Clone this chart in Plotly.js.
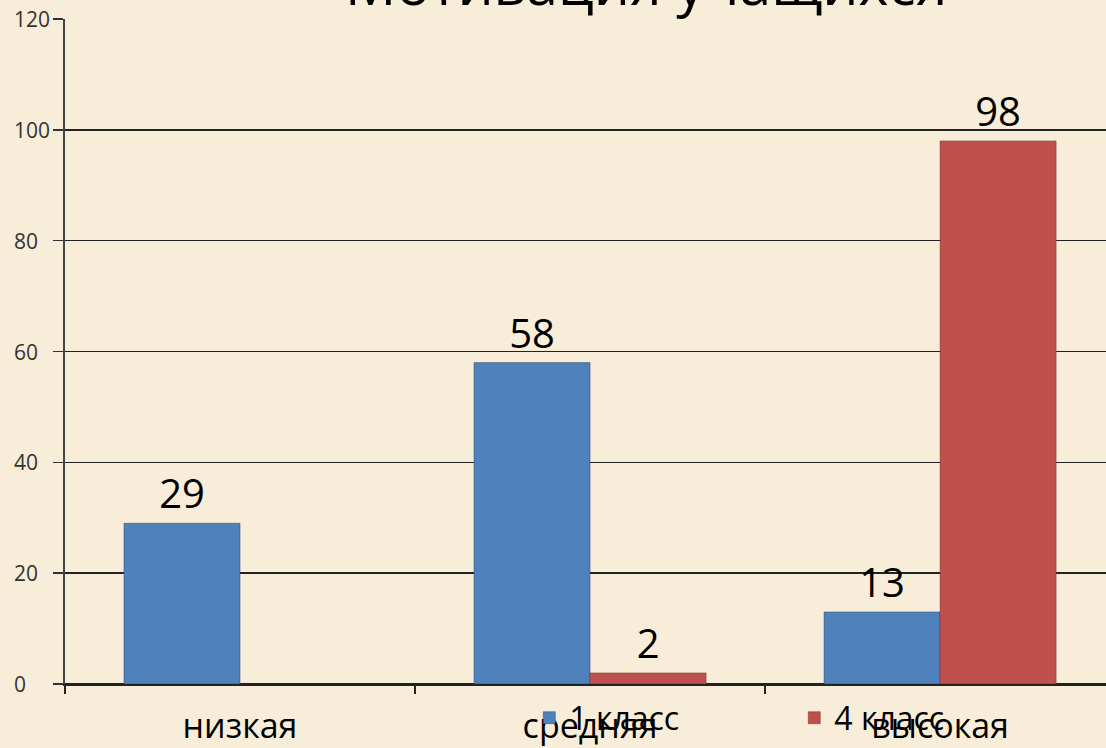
<!DOCTYPE html>
<html>
<head>
<meta charset="utf-8">
<script src="https://cdn.plot.ly/plotly-3.0.1.min.js"></script>
<style>
  html, body { margin: 0; padding: 0; overflow: hidden; background: #F8EDD8; }
  #chart { width: 1106px; height: 748px; }
</style>
</head>
<body>
<div id="chart"></div>
<script>
const titleText = "Мотивация учащихся";
const categories = ["низкая", "средняя", "высокая"];
const seriesNames = ["1 класс", "4 класс"];
const grade1 = [29, 58, 13];
const grade4 = [null, 2, 98];
const yTicks = [0, 20, 40, 60, 80, 100, 120];

const bg = "#F8EDD8";
const labelFont = { family: "Open Sans, Noto Sans, sans-serif", size: 40, color: "#000" };

const traces = [
  {
    type: "bar", name: seriesNames[0], x: categories, y: grade1,
    text: grade1.map(v => v == null ? "" : String(v)),
    textposition: "outside", textfont: labelFont, cliponaxis: false,
    marker: { color: "#4F81BD", line: { color: "rgba(40,60,100,0.45)", width: 1 } },
    hoverinfo: "x+y+name"
  },
  {
    type: "bar", name: seriesNames[1], x: categories, y: grade4,
    text: grade4.map(v => v == null ? "" : String(v)),
    textposition: "outside", textfont: labelFont, cliponaxis: false,
    marker: { color: "#C0504D", line: { color: "rgba(110,40,40,0.45)", width: 1 } },
    hoverinfo: "x+y+name"
  }
];

// y tick labels, left-aligned as in the reference, placed on the y scale
const yTickLabels = yTicks.map(v => ({
  text: String(v), xref: "paper", yref: "y", x: 0, y: v,
  xanchor: "left", yanchor: "middle", xshift: -53, showarrow: false,
  font: { family: "Open Sans, sans-serif", size: 21, color: "#333" }
}));

const layout = {
  width: 1106, height: 748,
  margin: { l: 65, r: 0, t: 19, b: 64, pad: 0 },
  paper_bgcolor: bg, plot_bgcolor: bg,
  barmode: "group", bargap: 0.337, bargroupgap: 0,
  showlegend: true,
  legend: {
    orientation: "h", x: 0.446, xanchor: "left", y: -0.051, yanchor: "middle",
    bgcolor: "rgba(0,0,0,0)", font: { family: "Open Sans, sans-serif", size: 32, color: "#000" },
    entrywidth: 220, entrywidthmode: "pixels", itemclick: false
  },
  xaxis: {
    type: "category", range: [-0.5, 2.474], fixedrange: true,
    showline: true, linecolor: "#222", linewidth: 1.5,
    ticks: "outside", tickson: "boundaries", ticklen: 8, tickcolor: "#222", tickwidth: 1.5,
    tickfont: { family: "Open Sans, sans-serif", size: 34, color: "#000" },
    ticklabelstandoff: 12, showgrid: false
  },
  yaxis: {
    range: [0, 120], tickmode: "array", tickvals: yTicks,
    showticklabels: false, fixedrange: true,
    showline: true, linecolor: "#444", linewidth: 2,
    ticks: "outside", ticklen: 10, tickcolor: "#333", tickwidth: 1.5,
    showgrid: true, gridcolor: "#222", gridwidth: 1.5,
    zeroline: true, zerolinecolor: "#222", zerolinewidth: 1.5
  },
  annotations: [
    {
      text: titleText, xref: "paper", yref: "paper", x: 0.558, y: 1,
      xanchor: "center", yanchor: "bottom", yshift: -5, showarrow: false,
      font: { family: "Open Sans, sans-serif", size: 57, color: "#000" }
    }
  ].concat(yTickLabels)
};

Plotly.newPlot("chart", traces, layout, { displayModeBar: false, staticPlot: true });
</script>
</body>
</html>
